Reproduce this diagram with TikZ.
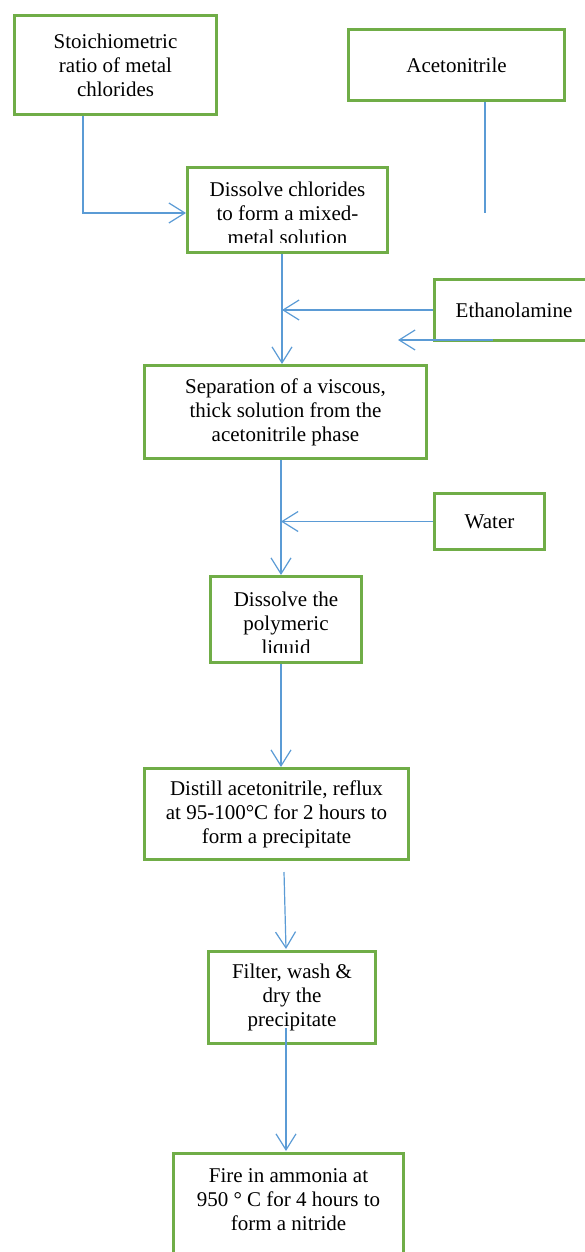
\documentclass[tikz,border=0pt]{standalone}
\usepackage{fontspec}
\setmainfont{Liberation Serif}
\usetikzlibrary{arrows.meta}
\definecolor{boxgreen}{HTML}{70AD47}
\definecolor{lineblue}{HTML}{5B9BD5}
\tikzset{
  stepbox/.style={draw=boxgreen, line width=3pt, inner sep=0pt, fill=none},
  txt/.style={inner sep=0pt, align=center, font=\fontsize{21}{24}\selectfont},
  conn/.style={draw=lineblue, line width=1.2pt, -{Straight Barb[length=16pt,width=20pt,line width=1.2pt]}},
  plain/.style={draw=lineblue, line width=1.2pt}
}
\begin{document}
\begin{tikzpicture}[x=1pt,y=-1pt]
\useasboundingbox (0,0) rectangle (585,1252);
% boxes
\node[stepbox, minimum width=202pt, minimum height=99pt, txt] (stoich) at (115.5,65) {Stoichiometric\\ratio of metal\\chlorides};
\node[stepbox, minimum width=216pt, minimum height=71pt, txt] (aceto) at (456.5,65) {Acetonitrile};
\node[stepbox, minimum width=200pt, minimum height=85pt] (chlor) at (287.5,210) {};
\begin{scope}
  \clip (186,166) rectangle (389,242);
  \node[txt] (chlortext) at (287.5,213) {Dissolve chlorides\\to form a mixed-\\metal solution};
\end{scope}
\node[stepbox, minimum width=159pt, minimum height=61pt, txt] (ethan) at (514,310) {Ethanolamine};
\node[stepbox, minimum width=282pt, minimum height=93pt, txt] (separ) at (285.5,412) {Separation of a viscous,\\thick solution from the\\acetonitrile phase};
\node[stepbox, minimum width=110pt, minimum height=56pt, txt] (water) at (489.5,521.5) {Water};
\node[stepbox, minimum width=151pt, minimum height=86pt] (polym) at (286,619.5) {};
\begin{scope}
  \clip (209,575) rectangle (363,652);
  \node[txt] (polymtext) at (286,625) {Dissolve the\\polymeric\\liquid};
\end{scope}
\node[stepbox, minimum width=264pt, minimum height=91pt, txt] (distill) at (276.5,814) {Distill acetonitrile, reflux\\at 95-100°C for 2 hours to\\form a precipitate};
\node[stepbox, minimum width=167pt, minimum height=92pt, txt] (filter) at (292,997.5) {Filter, wash \&\\dry the\\precipitate};
\node[stepbox, minimum width=230pt, minimum height=110pt] (fire) at (288.5,1208) {};
\node[txt] (firetext) at (288.5,1200) {Fire in ammonia at\\950 ° C for 4 hours to\\form a nitride};
% helper coordinates
\coordinate (colA) at (282,0);
\coordinate (colB) at (281,0);
\coordinate (stoichOut) at (83,116);
\coordinate (chlorIn) at (186,213);
\coordinate (acetoOut) at (485,102);
\coordinate (acetoEnd) at (485,213);
\coordinate (ethanB) at (493,340);
\coordinate (ethanBEnd) at (398,340);
\coordinate (distOut) at (284,872);
\coordinate (filtIn) at (286,949);
\coordinate (filtOut) at (286,1028);
\coordinate (fireIn) at (286,1151);
% connectors
\draw[conn] (stoichOut) |- (chlorIn);
\draw[plain] (acetoOut) -- (acetoEnd);
\draw[conn] (chlor.south -| colA) -- (separ.north -| colA);
\draw[conn] (ethan.west) -- (ethan.west -| colA);
\draw[conn] (ethanB) -- (ethanBEnd);
\draw[conn] (separ.south -| colB) -- (polym.north -| colB);
\draw[conn] (water.west) -- (water.west -| colB);
\draw[conn] (polym.south -| colB) -- (distill.north -| colB);
\draw[conn] (distOut) -- (filtIn);
\draw[conn] (filtOut) -- (fireIn);
\end{tikzpicture}
\end{document}
